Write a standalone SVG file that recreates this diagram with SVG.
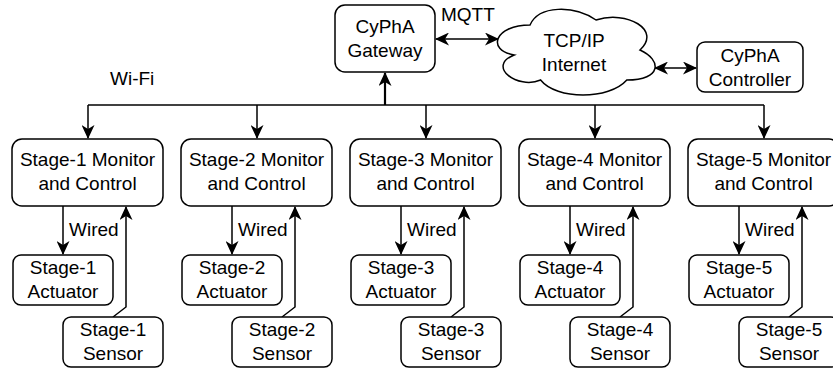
<svg xmlns="http://www.w3.org/2000/svg" width="833" height="368" viewBox="0 0 833 368">
<style>
.box{fill:#fff;stroke:#000;stroke-width:1.5}
.t{font-family:"Liberation Sans",Arial,sans-serif;font-size:19px;fill:#000;text-anchor:middle}
.l{font-family:"Liberation Sans",Arial,sans-serif;font-size:19px;fill:#000}
.c{fill:none;stroke:#000;stroke-width:1.5}
.ca{fill:none;stroke:#000;stroke-width:1.5;marker-end:url(#ah)}
.cb{fill:none;stroke:#000;stroke-width:1.5;marker-end:url(#ah);marker-start:url(#ah)}
</style>
<defs>
<marker id="ah" markerUnits="userSpaceOnUse" markerWidth="14" markerHeight="13" refX="13" refY="6.5" orient="auto-start-reverse">
<path d="M0,0 L14,6.5 L0,13 L4,6.5 Z" fill="#000"/>
</marker>
</defs>
<rect width="833" height="368" fill="#fff"/>
<g id="connectors">
<path class="ca" d="M385,105 V73" style="stroke-width:2.2"/>
<path class="c" d="M88,105 H764"/>
<path class="ca" d="M88,105 V138"/>
<path class="ca" d="M257,105 V138"/>
<path class="ca" d="M426,105 V138"/>
<path class="ca" d="M595,105 V138"/>
<path class="ca" d="M764,105 V138"/>
<path class="cb" d="M436,39 H498"/>
<path class="cb" d="M655,68 H696"/>
<path class="ca" d="M63,206 V254"/>
<path class="ca" d="M113,317 L126,307 V207"/>
<path class="ca" d="M232,206 V254"/>
<path class="ca" d="M282,317 L295,307 V207"/>
<path class="ca" d="M401,206 V254"/>
<path class="ca" d="M451,317 L464,307 V207"/>
<path class="ca" d="M570,206 V254"/>
<path class="ca" d="M620,317 L633,307 V207"/>
<path class="ca" d="M739,206 V254"/>
<path class="ca" d="M789,317 L802,307 V207"/>
<text class="l" x="441" y="21">MQTT</text>
<text class="l" x="110" y="85">Wi-Fi</text>
<text class="l" x="69" y="236">Wired</text>
<text class="l" x="238" y="236">Wired</text>
<text class="l" x="407" y="236">Wired</text>
<text class="l" x="576" y="236">Wired</text>
<text class="l" x="745" y="236">Wired</text>
</g>
<g id="gateway">
<rect class="box" x="335" y="5" width="100" height="67" rx="10"/>
<text class="t" x="385" y="33">CyPhA</text>
<text class="t" x="385" y="57">Gateway</text>
</g>
<g id="internet">
<path class="box" d="M530,25 C494.8,25 486,50 514.2,55 C486,66 517.7,90 540.6,80 C556.4,100 609.2,100 626.8,80 C662,80 662,60 640,50 C662,30 626.8,10 596,20 C574,5 538.8,5 530,25 Z"/>
<text class="t" x="574" y="47">TCP/IP</text>
<text class="t" x="574" y="71">Internet</text>
</g>
<g id="controller">
<rect class="box" x="697" y="42" width="106" height="50" rx="8"/>
<text class="t" x="750" y="62">CyPhA</text>
<text class="t" x="750" y="86">Controller</text>
</g>
<g id="stage1">
<rect class="box" x="12" y="139" width="151" height="67" rx="10"/>
<text class="t" x="87.5" y="166">Stage-1 Monitor</text>
<text class="t" x="87.5" y="190">and Control</text>
</g>
<g id="stage2">
<rect class="box" x="181" y="139" width="151" height="67" rx="10"/>
<text class="t" x="256.5" y="166">Stage-2 Monitor</text>
<text class="t" x="256.5" y="190">and Control</text>
</g>
<g id="stage3">
<rect class="box" x="350" y="139" width="151" height="67" rx="10"/>
<text class="t" x="425.5" y="166">Stage-3 Monitor</text>
<text class="t" x="425.5" y="190">and Control</text>
</g>
<g id="stage4">
<rect class="box" x="519" y="139" width="151" height="67" rx="10"/>
<text class="t" x="594.5" y="166">Stage-4 Monitor</text>
<text class="t" x="594.5" y="190">and Control</text>
</g>
<g id="stage5">
<rect class="box" x="688" y="139" width="151" height="67" rx="10"/>
<text class="t" x="763.5" y="166">Stage-5 Monitor</text>
<text class="t" x="763.5" y="190">and Control</text>
</g>
<g id="act1"><rect class="box" x="13" y="255" width="100" height="50" rx="8"/><text class="t" x="63" y="274">Stage-1</text><text class="t" x="63" y="298">Actuator</text></g>
<g id="act2"><rect class="box" x="182" y="255" width="100" height="50" rx="8"/><text class="t" x="232" y="274">Stage-2</text><text class="t" x="232" y="298">Actuator</text></g>
<g id="act3"><rect class="box" x="351" y="255" width="100" height="50" rx="8"/><text class="t" x="401" y="274">Stage-3</text><text class="t" x="401" y="298">Actuator</text></g>
<g id="act4"><rect class="box" x="520" y="255" width="100" height="50" rx="8"/><text class="t" x="570" y="274">Stage-4</text><text class="t" x="570" y="298">Actuator</text></g>
<g id="act5"><rect class="box" x="689" y="255" width="100" height="50" rx="8"/><text class="t" x="739" y="274">Stage-5</text><text class="t" x="739" y="298">Actuator</text></g>
<g id="sen1"><rect class="box" x="63" y="317" width="100" height="50" rx="8"/><text class="t" x="113" y="336">Stage-1</text><text class="t" x="113" y="360">Sensor</text></g>
<g id="sen2"><rect class="box" x="232" y="317" width="100" height="50" rx="8"/><text class="t" x="282" y="336">Stage-2</text><text class="t" x="282" y="360">Sensor</text></g>
<g id="sen3"><rect class="box" x="401" y="317" width="100" height="50" rx="8"/><text class="t" x="451" y="336">Stage-3</text><text class="t" x="451" y="360">Sensor</text></g>
<g id="sen4"><rect class="box" x="570" y="317" width="100" height="50" rx="8"/><text class="t" x="620" y="336">Stage-4</text><text class="t" x="620" y="360">Sensor</text></g>
<g id="sen5"><rect class="box" x="739" y="317" width="100" height="50" rx="8"/><text class="t" x="789" y="336">Stage-5</text><text class="t" x="789" y="360">Sensor</text></g>
</svg>
